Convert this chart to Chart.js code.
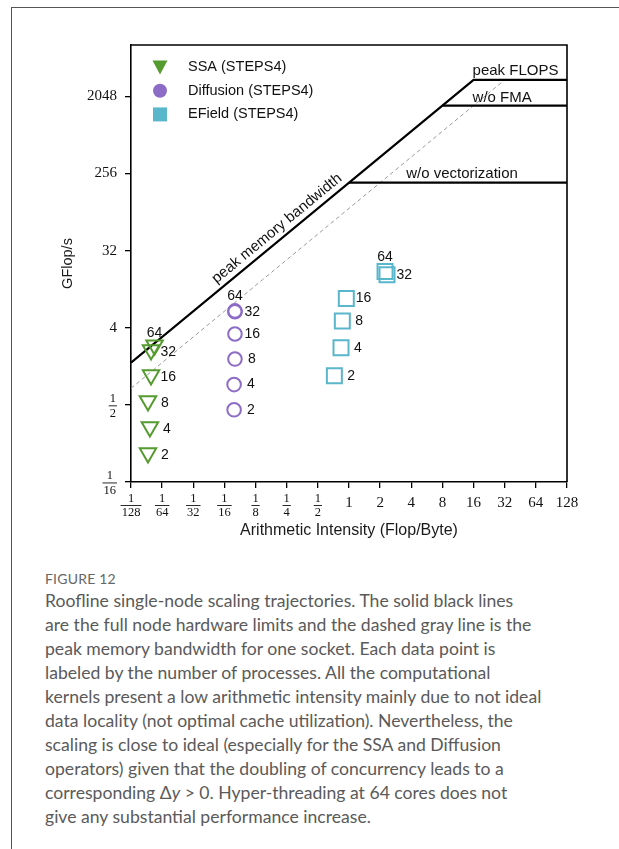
<!DOCTYPE html>
<html>
<head>
<meta charset="utf-8">
<script src="https://cdn.jsdelivr.net/npm/chart.js@4.4.1/dist/chart.umd.min.js"></script>
<style>
  html, body { margin: 0; padding: 0; background: #fff; }
  body { width: 619px; height: 849px; position: relative; overflow: hidden; }
  #frame { position: absolute; left: 11px; top: 7px; width: 800px; height: 1000px;
           border-top: 1.5px solid #555; border-left: 1.5px solid #555; }
  #wrap { position: absolute; left: 0; top: 0; width: 619px; height: 560px; }
  #fig { position: absolute; left: 45px; top: 570px; font-family: "Lato"; font-size: 14px;
         line-height: 18px; color: #666; letter-spacing: 0.2px; }
  #cap { position: absolute; left: 45px; top: 589px; font-family: "Lato"; font-size: 17.6px;
         line-height: 24px; color: #5a5a5a; white-space: nowrap; }
</style>
</head>
<body>
<div id="frame"></div>
<div id="wrap"><canvas id="roofline" width="619" height="560"></canvas></div>
<div id="fig">FIGURE 12</div>
<div id="cap">
Roofline single-node scaling trajectories. The solid black lines<br>
are the full node hardware limits and the dashed gray line is the<br>
peak memory bandwidth for one socket. Each data point is<br>
labeled by the number of processes. All the computational<br>
kernels present a low arithmetic intensity mainly due to not ideal<br>
data locality (not optimal cache utilization). Nevertheless, the<br>
scaling is close to ideal (especially for the SSA and Diffusion<br>
operators) given that the doubling of concurrency leads to a<br>
corresponding &Delta;<i>y</i> &gt; 0. Hyper-threading at 64 cores does not<br>
give any substantial performance increase.
</div>
<script>
// Number of processes for each measured point
const processCounts = [2, 4, 8, 16, 32, 64];

// Arithmetic intensity (Flop/Byte) and performance (GFlop/s) per kernel
const ssaIntensity = [0.0114, 0.0119, 0.0114, 0.0122, 0.0122, 0.0132];
const ssaGflops = [0.137, 0.275, 0.555, 1.12, 2.19, 2.5];

const diffusionIntensity = [0.0775, 0.0775, 0.079, 0.079, 0.079, 0.079];
const diffusionGflops = [0.438, 0.864, 1.72, 3.38, 6.15, 6.3];

const efieldIntensity = [0.722, 0.837, 0.862, 0.942, 2.33, 2.23];
const efieldGflops = [1.10, 2.33, 4.79, 8.8, 16.7, 18.2];

// Machine limits
const nodeBandwidth = 200;    // GB/s, full node
const socketBandwidth = 100;  // GB/s, one socket
const peakFlops = 3200;       // GFlop/s
const noFmaFlops = 1600;
const noVectorFlops = 200;

// Axis ranges and ticks
const xMin = 1 / 128, xMax = 128;
const yMin = 1 / 16, yMax = 8192;
const xTickValues = [1/128, 1/64, 1/32, 1/16, 1/8, 1/4, 1/2, 1, 2, 4, 8, 16, 32, 64, 128];
const xTickLabels = ['1/128', '1/64', '1/32', '1/16', '1/8', '1/4', '1/2', '1', '2', '4', '8', '16', '32', '64', '128'];
const yTickValues = [1/16, 1/2, 4, 32, 256, 2048];
const yTickLabels = ['1/16', '1/2', '4', '32', '256', '2048'];

const seriesNames = ['SSA (STEPS4)', 'Diffusion (STEPS4)', 'EField (STEPS4)'];
const GREEN = '#569b2f', PURPLE = '#8c6cc6', CYAN = '#5ab7cb';

const pts = (xs, ys) => xs.map((x, i) => ({ x: x, y: ys[i] }));

const roofPoints = [
  { x: xMin, y: nodeBandwidth * xMin },
  { x: peakFlops / nodeBandwidth, y: peakFlops },
  { x: xMax, y: peakFlops }
];
const fmaPoints = [{ x: noFmaFlops / nodeBandwidth, y: noFmaFlops }, { x: xMax, y: noFmaFlops }];
const vecPoints = [{ x: noVectorFlops / nodeBandwidth, y: noVectorFlops }, { x: xMax, y: noVectorFlops }];
const socketPoints = [{ x: xMin, y: socketBandwidth * xMin }, { x: peakFlops / socketBandwidth, y: peakFlops }];

const SANS = '"Liberation Sans", Arial, sans-serif';
const SERIF = '"Liberation Serif", "DejaVu Serif", serif';
const FRAC = 12.5;

function drawFraction(ctx, num, den, cx, cy, size) {
  ctx.font = size + 'px ' + SERIF;
  const w = Math.max(ctx.measureText(num).width, ctx.measureText(den).width);
  ctx.textAlign = 'center';
  ctx.textBaseline = 'middle';
  ctx.fillText(num, cx, cy - size * 0.58);
  ctx.fillText(den, cx, cy + size * 0.6);
  ctx.fillRect(cx - w / 2 - 1, cy - 0.5, w + 2, 0.9);
  return w;
}

const annotations = {
  id: 'annotations',
  afterDatasetsDraw(chart) {
    const ctx = chart.ctx;
    const area = chart.chartArea;
    const xs = chart.scales.x, ys = chart.scales.y;
    ctx.save();

    // closing frame (top and right spines)
    ctx.strokeStyle = '#000';
    ctx.lineWidth = 1.6;
    ctx.beginPath();
    ctx.moveTo(area.left, area.top);
    ctx.lineTo(area.right, area.top);
    ctx.lineTo(area.right, area.bottom);
    ctx.stroke();

    // x tick labels
    ctx.fillStyle = '#111';
    xTickValues.forEach((v, i) => {
      const px = xs.getPixelForValue(v);
      const lab = xTickLabels[i];
      if (lab.indexOf('/') >= 0) {
        const [n, d] = lab.split('/');
        drawFraction(ctx, n, d, px, area.bottom + 23.5, FRAC);
      } else {
        ctx.font = '15px ' + SERIF;
        ctx.textAlign = 'center';
        ctx.textBaseline = 'middle';
        ctx.fillText(lab, px, area.bottom + 21);
      }
    });

    // y tick labels
    yTickValues.forEach((v, i) => {
      const py = ys.getPixelForValue(v);
      const lab = yTickLabels[i];
      const right = area.left - 14;
      if (lab.indexOf('/') >= 0) {
        const [n, d] = lab.split('/');
        ctx.font = FRAC + 'px ' + SERIF;
        const w = Math.max(ctx.measureText(n).width, ctx.measureText(d).width);
        drawFraction(ctx, n, d, right - w / 2 - 1, py + 1, FRAC);
      } else {
        ctx.font = '15px ' + SERIF;
        ctx.textAlign = 'right';
        ctx.textBaseline = 'middle';
        ctx.fillText(lab, right, py);
      }
    });

    // axis titles
    ctx.fillStyle = '#1a1a1a';
    ctx.font = '16px ' + SANS;
    ctx.textAlign = 'center';
    ctx.textBaseline = 'middle';
    ctx.fillText('Arithmetic Intensity (Flop/Byte)', (area.left + area.right) / 2, area.bottom + 49);
    ctx.save();
    ctx.translate(area.left - 63, (area.top + area.bottom) / 2);
    ctx.rotate(-Math.PI / 2);
    ctx.font = '14.5px ' + SANS;
    ctx.fillText('GFlop/s', 0, 0);
    ctx.restore();

    // roofline labels
    ctx.fillStyle = '#111';
    ctx.font = '15px ' + SANS;
    ctx.textAlign = 'left';
    ctx.textBaseline = 'alphabetic';
    const ridge = xs.getPixelForValue(peakFlops / nodeBandwidth);
    ctx.fillText('peak FLOPS', ridge - 1, ys.getPixelForValue(peakFlops) - 5);
    ctx.fillText('w/o FMA', ridge - 1, ys.getPixelForValue(noFmaFlops) - 4);
    ctx.fillText('w/o vectorization', xs.getPixelForValue(2) + 26, ys.getPixelForValue(noVectorFlops) - 5);

    // bandwidth label along the slope
    const ax = xs.getPixelForValue(xMin), ay = ys.getPixelForValue(nodeBandwidth * xMin);
    const bx = xs.getPixelForValue(1), by = ys.getPixelForValue(nodeBandwidth);
    const ang = Math.atan2(by - ay, bx - ax);
    const mv = Math.pow(2, -2.1);
    ctx.save();
    ctx.translate(xs.getPixelForValue(mv), ys.getPixelForValue(nodeBandwidth * mv));
    ctx.rotate(ang);
    ctx.textAlign = 'center';
    ctx.textBaseline = 'bottom';
    ctx.fillText('peak memory bandwidth', 0, -3);
    ctx.restore();

    // point labels (process counts)
    ctx.font = '14px ' + SANS;
    ctx.fillStyle = '#111';
    const shifts = [2.4, 0, 0];
    [0, 1, 2].forEach(di => {
      const meta = chart.getDatasetMeta(di);
      meta.data.forEach((el, i) => {
        const lab = String(processCounts[i]);
        const cy = el.y + shifts[di];
        if (processCounts[i] === 64) {
          ctx.textAlign = 'center';
          ctx.textBaseline = 'middle';
          ctx.fillText(lab, el.x, cy - 14.5);
        } else {
          ctx.textAlign = 'left';
          ctx.textBaseline = 'middle';
          ctx.fillText(lab, el.x + (lab.length > 1 ? 9.5 : 13), cy);
        }
      });
    });

    // legend
    const colors = [GREEN, PURPLE, CYAN];
    seriesNames.forEach((name, i) => {
      const mx = area.left + 29, my = area.top + 22 + i * 23.7;
      ctx.fillStyle = colors[i];
      ctx.beginPath();
      if (i === 0) {
        ctx.moveTo(mx - 7.5, my - 6.5);
        ctx.lineTo(mx + 7.5, my - 6.5);
        ctx.lineTo(mx, my + 7.5);
        ctx.closePath();
      } else if (i === 1) {
        ctx.arc(mx, my, 7, 0, Math.PI * 2);
      } else {
        ctx.rect(mx - 7, my - 7, 14, 14);
      }
      ctx.fill();
      ctx.fillStyle = '#111';
      ctx.font = '14.5px ' + SANS;
      ctx.textAlign = 'left';
      ctx.textBaseline = 'middle';
      ctx.fillText(name, area.left + 57, my);
    });

    ctx.restore();
  }
};

const axisCommon = {
  type: 'logarithmic',
  ticks: { autoSkip: false, color: 'rgba(0,0,0,0)', maxRotation: 0, minRotation: 0, font: { size: 1 } },
  grid: { drawOnChartArea: false, drawTicks: true, tickLength: 6, color: '#000', lineWidth: 1.3 },
  border: { display: true, color: '#000', width: 1.6 }
};

new Chart(document.getElementById('roofline'), {
  type: 'scatter',
  data: {
    datasets: [
      { label: seriesNames[0], data: pts(ssaIntensity, ssaGflops), pointStyle: 'triangle', rotation: 180,
        pointRadius: 9.5, pointBorderWidth: 2, borderColor: GREEN, backgroundColor: 'rgba(0,0,0,0)', order: 1 },
      { label: seriesNames[1], data: pts(diffusionIntensity, diffusionGflops), pointStyle: 'circle',
        pointRadius: 6.8, pointBorderWidth: 2, borderColor: PURPLE, backgroundColor: 'rgba(0,0,0,0)', order: 1 },
      { label: seriesNames[2], data: pts(efieldIntensity, efieldGflops), pointStyle: 'rect',
        pointRadius: 10.6, pointBorderWidth: 2, borderColor: CYAN, backgroundColor: 'rgba(0,0,0,0)', order: 1 },
      { type: 'line', label: 'socket', data: socketPoints, borderColor: '#9a9a9a', borderWidth: 1,
        borderDash: [4, 3], pointRadius: 0, fill: false, order: 3 },
      { type: 'line', label: 'roof', data: roofPoints, borderColor: '#000', borderWidth: 2.2,
        pointRadius: 0, fill: false, order: 2 },
      { type: 'line', label: 'fma', data: fmaPoints, borderColor: '#000', borderWidth: 2.2,
        pointRadius: 0, fill: false, order: 2 },
      { type: 'line', label: 'vec', data: vecPoints, borderColor: '#000', borderWidth: 2.2,
        pointRadius: 0, fill: false, order: 2 }
    ]
  },
  options: {
    responsive: false,
    animation: false,
    events: [],
    layout: { padding: { left: 0, top: 45, right: 52, bottom: 0 } },
    plugins: { legend: { display: false }, tooltip: { enabled: false } },
    scales: {
      x: Object.assign({}, axisCommon, {
        min: xMin, max: xMax, position: 'bottom',
        afterBuildTicks: s => { s.ticks = xTickValues.map(v => ({ value: v })); },
        afterFit: s => { s.height = 78; }
      }),
      y: Object.assign({}, axisCommon, {
        min: yMin, max: yMax, position: 'left',
        afterBuildTicks: s => { s.ticks = yTickValues.map(v => ({ value: v })); },
        afterFit: s => { s.width = 131; }
      })
    }
  },
  plugins: [annotations]
});
</script>
</body>
</html>
